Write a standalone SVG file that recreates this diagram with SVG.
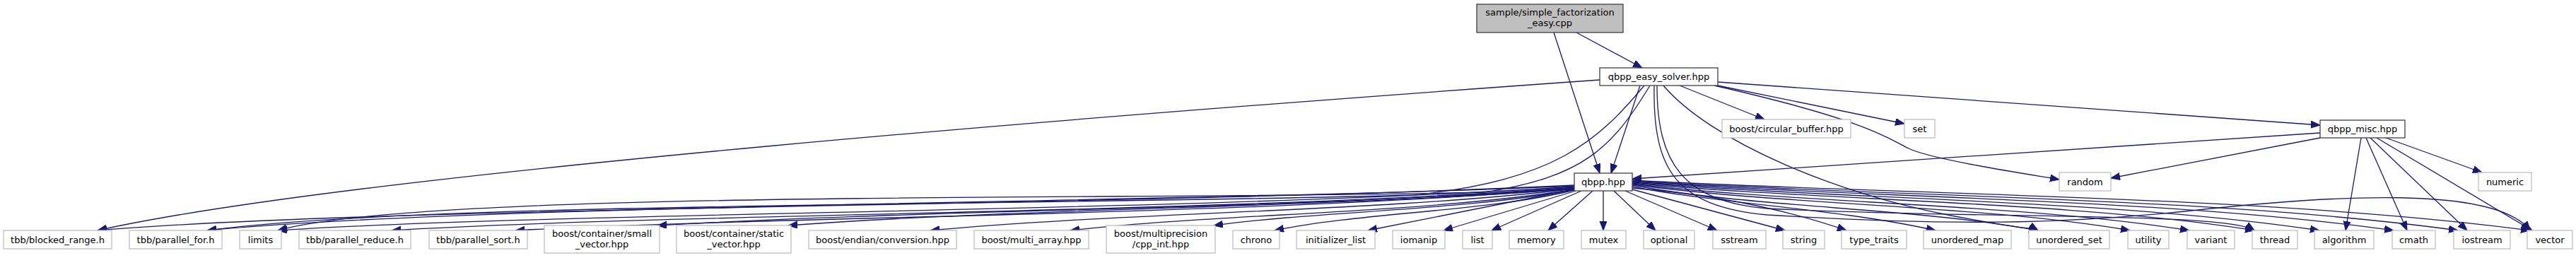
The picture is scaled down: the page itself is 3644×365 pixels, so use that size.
<svg xmlns="http://www.w3.org/2000/svg" width="3644" height="365" viewBox="0 0 3644 365">
<style>
text{font-family:"DejaVu Sans","Liberation Sans",sans-serif;font-size:13px;text-anchor:middle;fill:#000}
.root rect{fill:#bfbfbf;stroke:#404040;stroke-width:1.3}
.int rect{fill:#fff;stroke:#404040;stroke-width:1.3}
.ext rect{fill:#fff;stroke:#bfbfbf;stroke-width:1.3}
#edges path{fill:none;stroke:#191970;stroke-width:1.3;marker-end:url(#arr)}
</style>
<defs>
<marker id="arr" markerUnits="userSpaceOnUse" markerWidth="14" markerHeight="11" refX="13" refY="5" orient="auto">
<path d="M0,0 L13,5 L0,10 Z" fill="#191970" stroke="#191970" stroke-width="1"/>
</marker>
</defs>
<rect width="3644" height="365" fill="#fff"/>
<g id="edges">
<path d="M2230,46 L2323,96"/>
<path d="M2198,46 L2263,245"/>
<path d="M2320,121 L2279,245"/>
<path d="M2263,113 C1600,160 500,245 138,326"/>
<path d="M2326,121 C2260,200 2200,255 2000,276 C1400,292 600,286 293,326"/>
<path d="M2334,121 C2280,210 2240,250 2100,272 C1600,284 600,268 393,326"/>
<path d="M2344,121 C2344,230 2380,285 2500,295 C2800,310 3150,300 3189,326"/>
<path d="M2340,121 C2338,240 2370,292 2500,304 C2800,322 2950,314 3100,298 C3300,276 3530,262 3579,326"/>
<path d="M2353,121 C2420,200 2600,275 2760,305 S2870,318 2883,326"/>
<path d="M2376,121 L2496,169"/>
<path d="M2425,120 L2694,175"/>
<path d="M2425,121 C2640,170 2670,195 2700,210 S2860,245 2913,254"/>
<path d="M2430,116 L3282,177"/>
<path d="M3282,188 L2309,253"/>
<path d="M3282,195 L2986,252"/>
<path d="M3375,195 L3511,244"/>
<path d="M3340,195 L3318,326"/>
<path d="M3347,195 L3405,326"/>
<path d="M3353,195 L3490,326"/>
<path d="M3362,195 L3582,326"/>
<path d="M2227,262 C1600,292 538,292 138,326"/>
<path d="M2227,263 C1647,288 693,288 293,326"/>
<path d="M2227,264 C1677,300 793,300 393,326"/>
<path d="M2227,265 C1725,302 954,302 554,326"/>
<path d="M2227,266 C1778,305 1129,305 729,326"/>
<path d="M2227,266 C1838,296 1319,296 930,319"/>
<path d="M2227,267 C1893,294 1449,294 1115,319"/>
<path d="M2227,267 C1954,300 1589,300 1316,326"/>
<path d="M2227,268 C2013,302 1728,302 1514,326"/>
<path d="M2227,268 C2074,298 1870,298 1717,319"/>
<path d="M2227,269 C2100,300 1930,300 1803,326"/>
<path d="M2227,268 L1935,326"/>
<path d="M2229,270 L2042,326"/>
<path d="M2237,270 L2110,326"/>
<path d="M2253,270 L2190,326"/>
<path d="M2268,270 L2268,326"/>
<path d="M2283,270 L2342,326"/>
<path d="M2299,270 L2429,326"/>
<path d="M2309,268 L2525,326"/>
<path d="M2309,266 Q2480,280 2612,326"/>
<path d="M2309,264 C2430,288 2600,295 2738,326"/>
<path d="M2309,262 C2481,294 2711,294 2883,326"/>
<path d="M2309,261 C2520,290 2802,290 3013,326"/>
<path d="M2309,260 C2545,288 2861,288 3097,326"/>
<path d="M2309,259 C2573,284 2925,284 3189,326"/>
<path d="M2309,258 C2601,282 2989,282 3281,326"/>
<path d="M2309,257 C2632,280 3063,280 3386,326"/>
<path d="M2309,256 C2659,278 3127,278 3477,326"/>
<path d="M2309,255 C2690,276 3198,276 3579,326"/>
</g>
<g id="n_root" class="root"><rect x="2089" y="6" width="207" height="40"/><text x="2192.5" y="21.5">sample/simple_factorization</text><text x="2192.5" y="37">_easy.cpp</text></g>
<g id="n_easy" class="int"><rect x="2263" y="96" width="167" height="25"/><text x="2346.5" y="112.5">qbpp_easy_solver.hpp</text></g>
<g id="n_qbpp" class="int"><rect x="2227" y="245" width="82" height="25"/><text x="2268" y="262">qbpp.hpp</text></g>
<g id="n_misc" class="int"><rect x="3282" y="170" width="120" height="25"/><text x="3342" y="187">qbpp_misc.hpp</text></g>
<g id="n_circ" class="ext"><rect x="2436" y="169" width="182" height="26"/><text x="2527" y="186.5">boost/circular_buffer.hpp</text></g>
<g id="n_set" class="ext"><rect x="2694" y="169" width="43" height="26"/><text x="2715.5" y="186.5">set</text></g>
<g id="n_random" class="ext"><rect x="2913" y="244" width="73" height="26"/><text x="2949.5" y="261.5">random</text></g>
<g id="n_numeric" class="ext"><rect x="3506" y="244" width="75" height="26"/><text x="3543.5" y="261.5">numeric</text></g>
<g id="n_blocked" class="ext"><rect x="5" y="326" width="153" height="26"/><text x="81.5" y="343.5">tbb/blocked_range.h</text></g>
<g id="n_pfor" class="ext"><rect x="183" y="326" width="131" height="26"/><text x="248.5" y="343.5">tbb/parallel_for.h</text></g>
<g id="n_limits" class="ext"><rect x="339" y="326" width="59" height="26"/><text x="368.5" y="343.5">limits</text></g>
<g id="n_preduce" class="ext"><rect x="423" y="326" width="158" height="26"/><text x="502" y="343.5">tbb/parallel_reduce.h</text></g>
<g id="n_psort" class="ext"><rect x="607" y="326" width="139" height="26"/><text x="676.5" y="343.5">tbb/parallel_sort.h</text></g>
<g id="n_small" class="ext"><rect x="770" y="319" width="163" height="39"/><text x="851.5" y="334.5">boost/container/small</text><text x="851.5" y="350">_vector.hpp</text></g>
<g id="n_static" class="ext"><rect x="957" y="319" width="162" height="39"/><text x="1038" y="334.5">boost/container/static</text><text x="1038" y="350">_vector.hpp</text></g>
<g id="n_endian" class="ext"><rect x="1144" y="326" width="209" height="26"/><text x="1248.5" y="343.5">boost/endian/conversion.hpp</text></g>
<g id="n_multiarray" class="ext"><rect x="1378" y="326" width="162" height="26"/><text x="1459" y="343.5">boost/multi_array.hpp</text></g>
<g id="n_mp" class="ext"><rect x="1565" y="319" width="154" height="39"/><text x="1642" y="334.5">boost/multiprecision</text><text x="1642" y="350">/cpp_int.hpp</text></g>
<g id="n_chrono" class="ext"><rect x="1744" y="326" width="66" height="26"/><text x="1777" y="343.5">chrono</text></g>
<g id="n_initlist" class="ext"><rect x="1834" y="326" width="111" height="26"/><text x="1889.5" y="343.5">initializer_list</text></g>
<g id="n_iomanip" class="ext"><rect x="1970" y="326" width="74" height="26"/><text x="2007" y="343.5">iomanip</text></g>
<g id="n_list" class="ext"><rect x="2069" y="326" width="42" height="26"/><text x="2090" y="343.5">list</text></g>
<g id="n_memory" class="ext"><rect x="2135" y="326" width="77" height="26"/><text x="2173.5" y="343.5">memory</text></g>
<g id="n_mutex" class="ext"><rect x="2237" y="326" width="63" height="26"/><text x="2268.5" y="343.5">mutex</text></g>
<g id="n_optional" class="ext"><rect x="2325" y="326" width="72" height="26"/><text x="2361" y="343.5">optional</text></g>
<g id="n_sstream" class="ext"><rect x="2423" y="326" width="75" height="26"/><text x="2460.5" y="343.5">sstream</text></g>
<g id="n_string" class="ext"><rect x="2522" y="326" width="59" height="26"/><text x="2551.5" y="343.5">string</text></g>
<g id="n_typetraits" class="ext"><rect x="2605" y="326" width="92" height="26"/><text x="2651" y="343.5">type_traits</text></g>
<g id="n_umap" class="ext"><rect x="2721" y="326" width="124" height="26"/><text x="2783" y="343.5">unordered_map</text></g>
<g id="n_uset" class="ext"><rect x="2870" y="326" width="114" height="26"/><text x="2927" y="343.5">unordered_set</text></g>
<g id="n_utility" class="ext"><rect x="3010" y="326" width="58" height="26"/><text x="3039" y="343.5">utility</text></g>
<g id="n_variant" class="ext"><rect x="3094" y="326" width="67" height="26"/><text x="3127.5" y="343.5">variant</text></g>
<g id="n_thread" class="ext"><rect x="3186" y="326" width="64" height="26"/><text x="3218" y="343.5">thread</text></g>
<g id="n_algorithm" class="ext"><rect x="3274" y="326" width="84" height="26"/><text x="3316" y="343.5">algorithm</text></g>
<g id="n_cmath" class="ext"><rect x="3384" y="326" width="61" height="26"/><text x="3414.5" y="343.5">cmath</text></g>
<g id="n_iostream" class="ext"><rect x="3471" y="326" width="80" height="26"/><text x="3511" y="343.5">iostream</text></g>
<g id="n_vector" class="ext"><rect x="3575" y="326" width="64" height="26"/><text x="3607" y="343.5">vector</text></g>
</svg>
